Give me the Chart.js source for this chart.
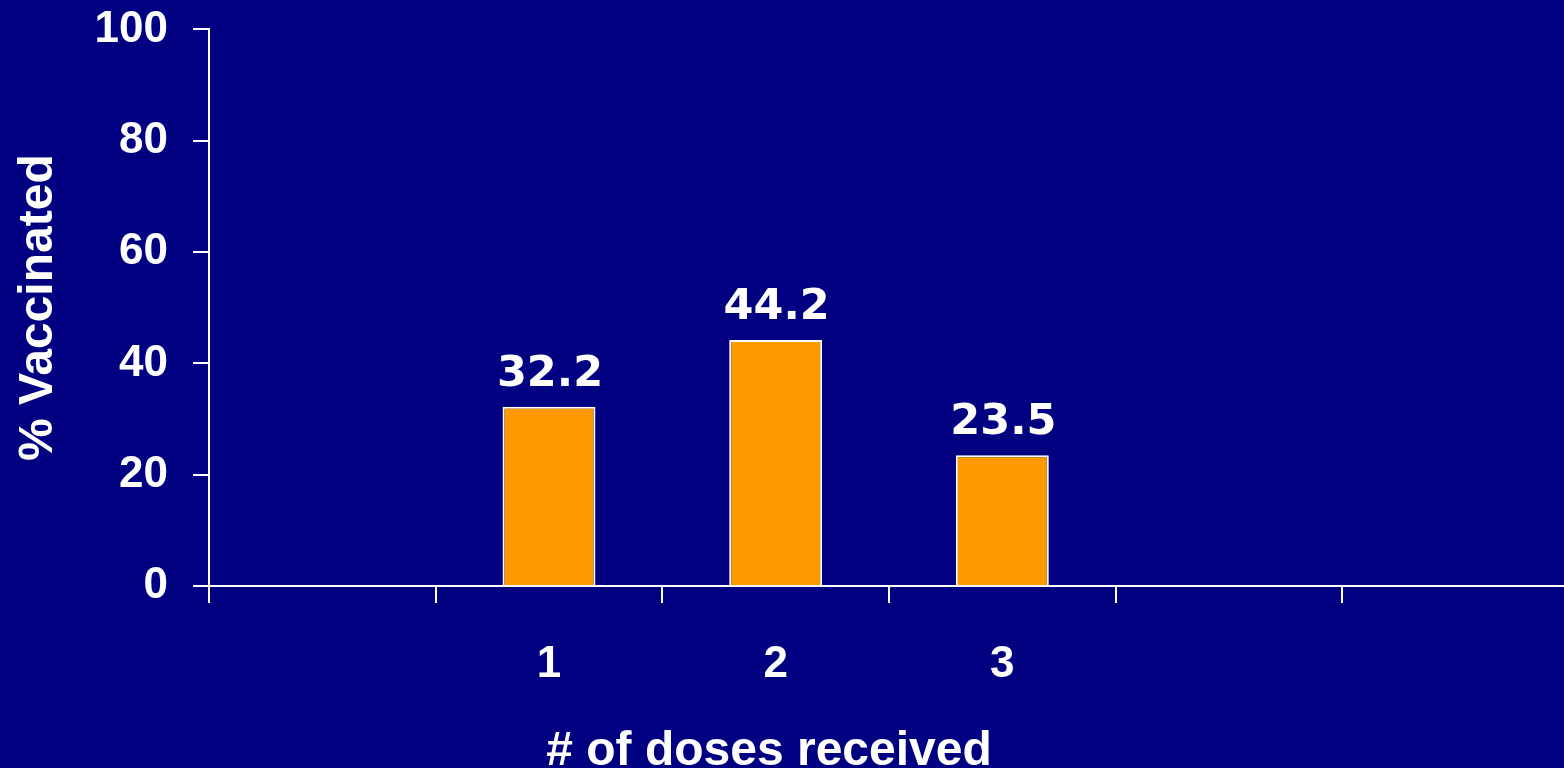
<!DOCTYPE html>
<html>
<head>
<meta charset="utf-8">
<title>% Vaccinated by # of doses received</title>
<script src="https://cdn.jsdelivr.net/npm/chart.js@4/dist/chart.umd.min.js"></script>
<style>
  html, body { margin: 0; padding: 0; background: #000080; overflow: hidden; }
  #wrap { width: 1569px; height: 768px; }
</style>
</head>
<body>
<div id="wrap"><canvas id="chart" width="1569" height="768"></canvas></div>
<script>
// Categories (blank slots keep the empty columns on each side)
const doseLabels = ['', '1', '2', '3', '', ''];
const vaccinatedPct = [null, 32.2, 44.2, 23.5, null, null];
const yTicks = [0, 20, 40, 60, 80, 100];

const axisFont = { family: '"Liberation Sans", Arial, sans-serif', size: 44, weight: 'bold' };
const titleFont = { family: '"Liberation Sans", Arial, sans-serif', size: 48, weight: 'bold' };

// Value labels above each bar
const barValues = {
  id: 'barValues',
  afterDatasetsDraw(chart) {
    const ctx = chart.ctx;
    const meta = chart.getDatasetMeta(0);
    ctx.save();
    ctx.fillStyle = '#ffffff';
    ctx.font = 'bold 43px "DejaVu Sans", Verdana, sans-serif';
    ctx.textAlign = 'center';
    ctx.textBaseline = 'alphabetic';
    meta.data.forEach((bar, i) => {
      const v = vaccinatedPct[i];
      if (v === null) return;
      ctx.fillText(v.toFixed(1), bar.x + 1, bar.y - 21);
    });
    ctx.restore();
  }
};

// X axis title, centred under the slide rather than the plot area
const xTitle = {
  id: 'xTitle',
  afterDraw(chart) {
    const ctx = chart.ctx;
    ctx.save();
    ctx.fillStyle = '#ffffff';
    ctx.font = 'bold 48px "Liberation Sans", Arial, sans-serif';
    ctx.textAlign = 'center';
    ctx.textBaseline = 'alphabetic';
    ctx.fillText('# of doses received', 769, 765);
    ctx.restore();
  }
};

new Chart(document.getElementById('chart').getContext('2d'), {
  type: 'bar',
  data: {
    labels: doseLabels,
    datasets: [{
      data: vaccinatedPct,
      backgroundColor: '#ff9900',
      borderColor: '#ffffff',
      borderWidth: 2,
      barPercentage: 0.41,
      categoryPercentage: 1
    }]
  },
  options: {
    responsive: false,
    animation: false,
    events: [],
    layout: { padding: { top: 29, right: 0, left: 0, bottom: 0 } },
    plugins: {
      legend: { display: false },
      tooltip: { enabled: false }
    },
    scales: {
      x: {
        offset: true,
        grid: {
          offset: true,
          drawOnChartArea: false,
          drawTicks: true,
          tickLength: 17,
          color: '#ffffff',
          lineWidth: 2
        },
        border: { display: true, color: '#ffffff', width: 2 },
        ticks: { color: '#ffffff', font: axisFont, padding: 35, maxRotation: 0, autoSkip: false },
        afterFit(scale) { scale.height = 182; }
      },
      y: {
        min: 0,
        max: 100,
        afterBuildTicks(scale) { scale.ticks = yTicks.map(v => ({ value: v })); },
        grid: {
          drawOnChartArea: false,
          drawTicks: true,
          tickLength: 16,
          color: '#ffffff',
          lineWidth: 2
        },
        border: { display: true, color: '#ffffff', width: 2 },
        // small lineHeight so the top label does not push the plot area down
        ticks: { color: '#ffffff', font: Object.assign({}, axisFont, { lineHeight: 0.2 }), padding: 25 },
        title: {
          display: true,
          text: '% Vaccinated',
          color: '#ffffff',
          font: titleFont,
          padding: { top: 10, bottom: 0 }
        },
        afterFit(scale) { scale.width = 209; }
      }
    }
  },
  plugins: [barValues, xTitle]
});
</script>
</body>
</html>
